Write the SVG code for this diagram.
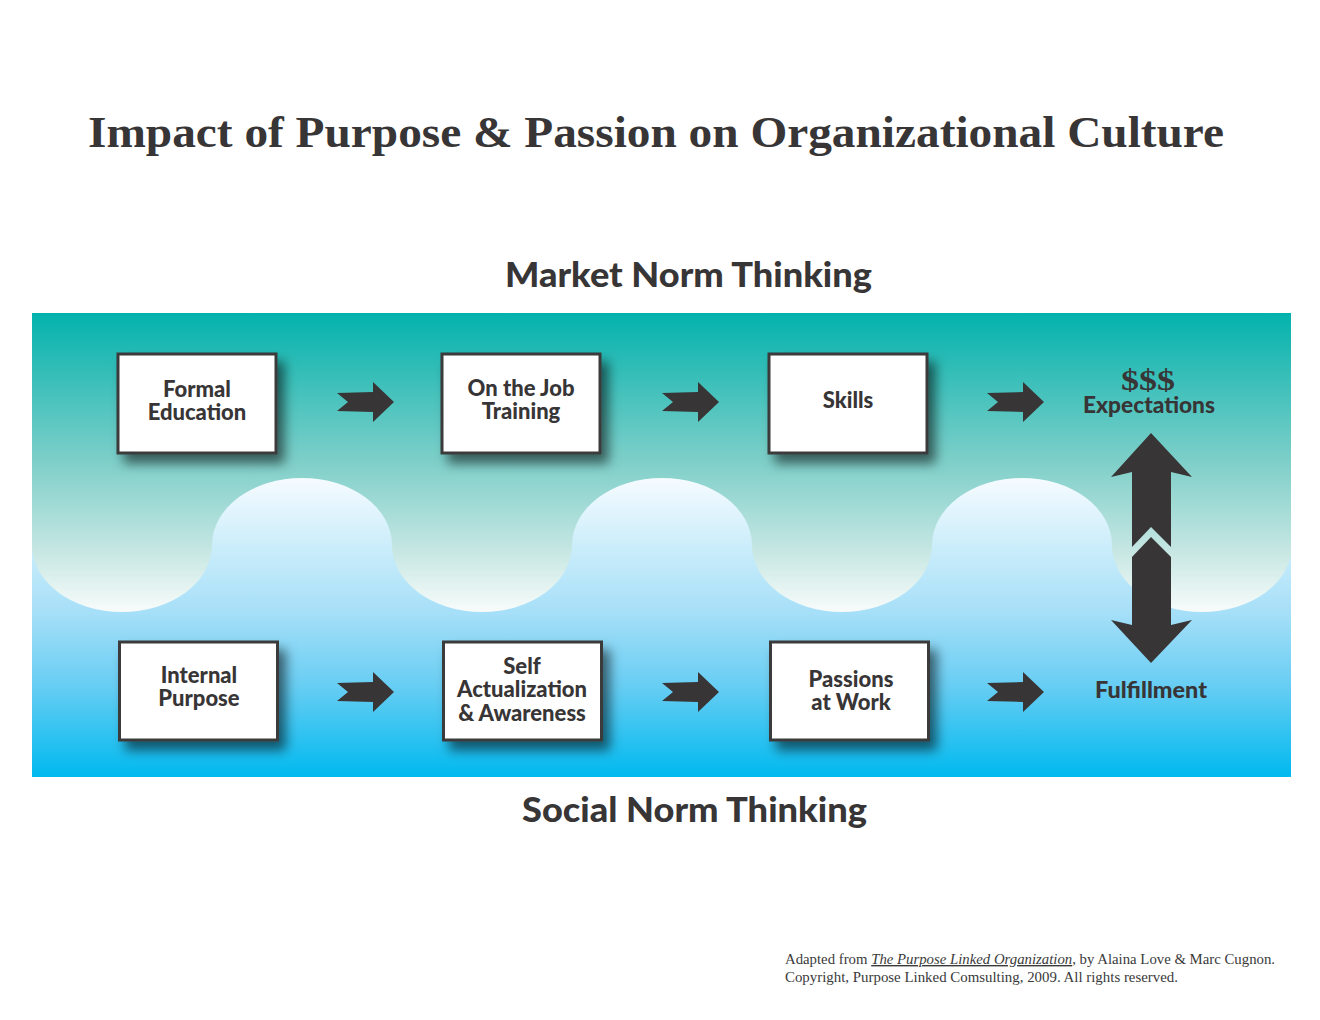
<svg xmlns="http://www.w3.org/2000/svg" width="1320" height="1020" viewBox="0 0 1320 1020">
<style>
.t{font-family:"Liberation Serif","Times New Roman",serif;font-weight:bold;fill:#383536}
.h{font-family:Lato,"Open Sans","Liberation Sans",sans-serif;font-weight:900;fill:#383536;text-anchor:middle}
.lb{font-family:Lato,"Open Sans","Liberation Sans",sans-serif;font-weight:900;font-size:22px;fill:#383536;text-anchor:middle}
.box{fill:#ffffff;stroke:#3a3a3a;stroke-width:3}
.ar{fill:#383536}
.ft{font-family:"Liberation Serif","Times New Roman",serif;font-size:14px;fill:#3a3a3a}
</style>
<defs>
<linearGradient id="gTeal" gradientUnits="userSpaceOnUse" x1="0" y1="313" x2="0" y2="612">
<stop offset="0" stop-color="#03b2ad"/>
<stop offset="0.5" stop-color="#7fcfc9"/>
<stop offset="0.8" stop-color="#c7e7e3"/>
<stop offset="1" stop-color="#f8fcfb"/>
</linearGradient>
<linearGradient id="gBlue" gradientUnits="userSpaceOnUse" x1="0" y1="478" x2="0" y2="777">
<stop offset="0" stop-color="#f6fbff"/>
<stop offset="0.22" stop-color="#cdeefb"/>
<stop offset="0.45" stop-color="#a6dff8"/>
<stop offset="0.7" stop-color="#66cdf3"/>
<stop offset="1" stop-color="#00b9ef"/>
</linearGradient>
<clipPath id="bandClip"><rect x="32" y="313" width="1259" height="464"/></clipPath>
<filter id="sh" x="-20%" y="-20%" width="150%" height="160%">
<feDropShadow dx="7" dy="9" stdDeviation="6" flood-color="#000" flood-opacity="0.55"/>
</filter>
<path id="arr" d="M-28,-9 L8,-10 L8,-20 L29,0 L8,20 L8,10 L-28,9 L-17,0 Z"/>
</defs>

<text class="t" x="88" y="147" font-size="44" textLength="1136" lengthAdjust="spacingAndGlyphs">Impact of Purpose &amp; Passion on Organizational Culture</text>

<g id="band" clip-path="url(#bandClip)">
<rect x="32" y="313" width="1259" height="464" fill="url(#gBlue)"/>
<path fill="url(#gTeal)" d="M32,313 H1292 V545 A90,67 0 0 1 1112,545 A90,67 0 0 0 932,545 A90,67 0 0 1 752,545 A90,67 0 0 0 572,545 A90,67 0 0 1 392,545 A90,67 0 0 0 212,545 A90,67 0 0 1 32,545 Z"/>
</g>

<text class="h" x="688.5" y="287" font-size="34" textLength="367" lengthAdjust="spacingAndGlyphs">Market Norm Thinking</text>
<text class="h" x="694.5" y="822" font-size="34" textLength="345" lengthAdjust="spacingAndGlyphs">Social Norm Thinking</text>

<g id="connectors">
<use href="#arr" class="ar" x="365" y="402"/>
<use href="#arr" class="ar" x="690" y="402"/>
<use href="#arr" class="ar" x="1015" y="402"/>
<use href="#arr" class="ar" x="365" y="692"/>
<use href="#arr" class="ar" x="690" y="692"/>
<use href="#arr" class="ar" x="1015" y="692"/>
<path class="ar" d="M1151,433 L1192,477 L1171,472 L1171,547 L1151,527 L1132,547 L1132,472 L1111,477 Z"/>
<path class="ar" d="M1151,663 L1192,620 L1171,625 L1171,557 L1151,537 L1132,557 L1132,625 L1111,620 Z"/>
</g>

<g id="n-formal">
<rect class="box" x="118" y="354" width="158" height="99" filter="url(#sh)"/>
<text class="lb" x="197" y="397">Formal</text>
<text class="lb" x="197" y="420">Education</text>
</g>
<g id="n-ojt">
<rect class="box" x="442" y="354" width="158" height="99" filter="url(#sh)"/>
<text class="lb" x="521" y="396">On the Job</text>
<text class="lb" x="521" y="419">Training</text>
</g>
<g id="n-skills">
<rect class="box" x="769" y="354" width="158" height="99" filter="url(#sh)"/>
<text class="lb" x="848" y="408">Skills</text>
</g>
<g id="n-expect">
<text class="t" x="1148" y="390" font-size="30" text-anchor="middle" textLength="54" lengthAdjust="spacingAndGlyphs">$$$</text>
<text class="lb" x="1149" y="413" textLength="132" lengthAdjust="spacingAndGlyphs">Expectations</text>
</g>
<g id="n-internal">
<rect class="box" x="119.5" y="642" width="158" height="98" filter="url(#sh)"/>
<text class="lb" x="199" y="683">Internal</text>
<text class="lb" x="199" y="706">Purpose</text>
</g>
<g id="n-self">
<rect class="box" x="443.5" y="642" width="158" height="98" filter="url(#sh)"/>
<text class="lb" x="522" y="674">Self</text>
<text class="lb" x="522" y="697">Actualization</text>
<text class="lb" x="522" y="721">&amp; Awareness</text>
</g>
<g id="n-passions">
<rect class="box" x="770.5" y="642" width="158" height="98" filter="url(#sh)"/>
<text class="lb" x="851" y="687">Passions</text>
<text class="lb" x="851" y="710">at Work</text>
</g>
<g id="n-fulfil">
<text class="lb" x="1151" y="698" textLength="112" lengthAdjust="spacingAndGlyphs">Fulfillment</text>
</g>

<g id="footer">
<text class="ft" x="785" y="964" textLength="490" lengthAdjust="spacingAndGlyphs">Adapted from <tspan font-style="italic" text-decoration="underline">The Purpose Linked Organization</tspan>, by Alaina Love &amp; Marc Cugnon.</text>
<text class="ft" x="785" y="982" textLength="393" lengthAdjust="spacingAndGlyphs">Copyright, Purpose Linked Comsulting, 2009. All rights reserved.</text>
</g>
</svg>
